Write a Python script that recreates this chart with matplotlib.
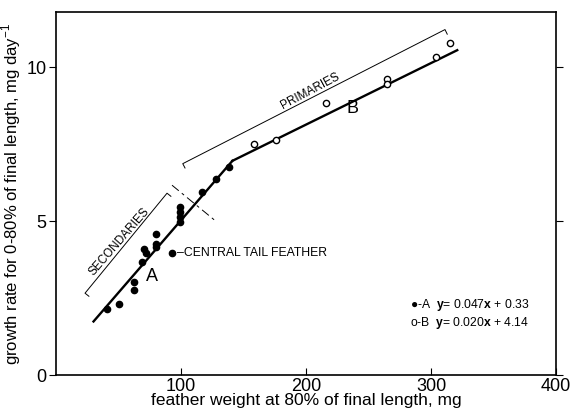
import numpy as np
import matplotlib
matplotlib.use('Agg')
import matplotlib.pyplot as plt

plt.rcParams['font.family'] = ['Liberation Sans', 'DejaVu Sans']
plt.rcParams['mathtext.fontset'] = 'custom'
plt.rcParams['mathtext.rm'] = 'Liberation Sans'
plt.rcParams['mathtext.bf'] = 'Liberation Sans:bold'

# secondaries (filled dots, line A)
sec_x = [41, 50, 62, 62, 69, 70, 72, 80, 80, 80, 99, 99, 99, 99, 117, 128, 138]
sec_y = [2.14, 2.30, 3.02, 2.76, 3.67, 4.11, 3.95, 4.57, 4.27, 4.15,
         5.45, 5.29, 5.13, 4.97, 5.95, 6.36, 6.77]
# central tail feather
tail_x = [93]
tail_y = [3.98]
# primaries (open circles, line B)
pri_x = [158, 176, 216, 265, 265, 304, 315]
pri_y = [7.50, 7.63, 8.83, 9.63, 9.47, 10.33, 10.78]

# regression lines
slope_a, icpt_a = 0.047, 0.33
slope_b, icpt_b = 0.020, 4.14
x_break = (icpt_b - icpt_a) / (slope_a - slope_b)

fig = plt.figure(figsize=(5.74, 4.12), dpi=100)
ax = fig.add_axes([0.0976, 0.0898, 0.871, 0.881])

xa = np.array([30, x_break])
xb = np.array([x_break, 321])
ax.plot(xa, slope_a * xa + icpt_a, color='black', lw=1.7, zorder=2)
ax.plot(xb, slope_b * xb + icpt_b, color='black', lw=1.7, zorder=2)

ax.plot(sec_x, sec_y, 'o', color='black', ms=4.5, zorder=3)
ax.plot(tail_x, tail_y, 'o', color='black', ms=4.5, zorder=3)
ax.plot(pri_x, pri_y, 'o', mfc='white', mec='black', ms=4.5, mew=1.0, zorder=3)

# brackets
ax.plot([26.3, 23.2, 88.8, 91.9], [2.56, 2.66, 5.91, 5.81], color='black', lw=0.7)
ax.plot([103.2, 101.4, 311.2, 313.0], [6.73, 6.87, 11.23, 11.08], color='black', lw=0.7)
ax.plot([92.8, 128.8], [6.17, 4.97], color='black', lw=0.7,
        linestyle=(0, (9, 4, 3, 4)))

ax.text(50.5, 4.33, 'SECONDARIES', rotation=49, fontsize=8.5, ha='center', va='center',
        rotation_mode='anchor')
ax.text(203.5, 9.23, 'PRIMARIES', rotation=28, fontsize=8.5, ha='center', va='center',
        rotation_mode='anchor')
ax.text(96.5, 3.98, '\u2013CENTRAL TAIL FEATHER', fontsize=8.8, ha='left', va='center')
ax.text(77, 3.2, 'A', fontsize=13, ha='center', va='center')
ax.text(237, 8.67, 'B', fontsize=13, ha='center', va='center')

ax.text(283, 2.27, '\u25cf-A  $\\bf{y}$= 0.047$\\bf{x}$ + 0.33', fontsize=8.7,
        ha='left', va='center')
ax.text(283, 1.69, 'o-B  $\\bf{y}$= 0.020$\\bf{x}$ + 4.14', fontsize=8.7,
        ha='left', va='center')

ax.set_xlim(0, 400)
ax.set_ylim(0, 11.8)
ax.set_xticks([100, 200, 300, 400])
ax.set_yticks([0, 5, 10])
ax.tick_params(axis='x', direction='in', length=5, labelsize=13, pad=2)
ax.tick_params(axis='y', direction='out', length=5, labelsize=13, pad=2)
ax.tick_params(axis='y', which='both', right=True, labelright=False)
for s in ax.spines.values():
    s.set_linewidth(1.2)

ax.set_xlabel('feather weight at 80% of final length, mg', fontsize=12.5, labelpad=-1)
ax.set_ylabel('growth rate for 0-80% of final length, mg day$^{-1}$', fontsize=12,
              labelpad=2)

fig.savefig('out.png', dpi=100)
